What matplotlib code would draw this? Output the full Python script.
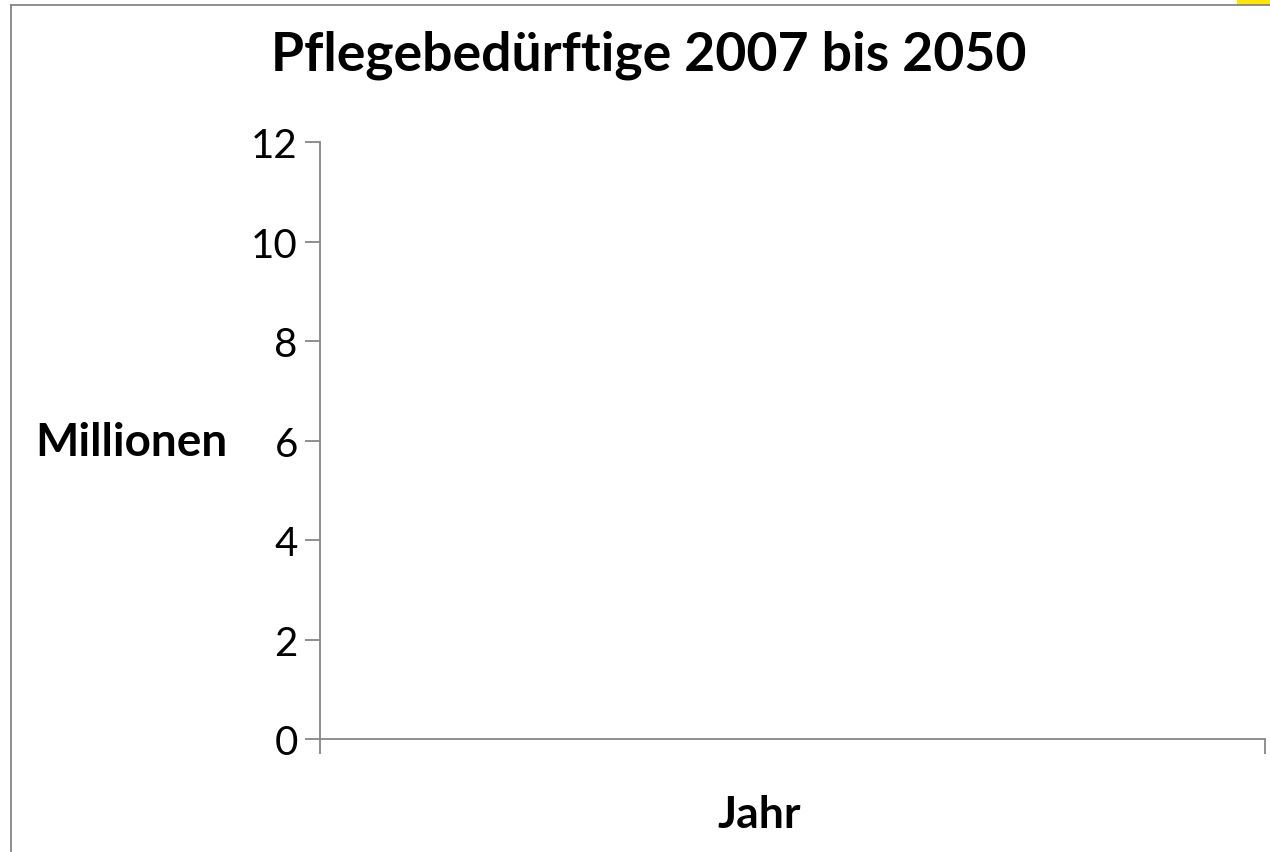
import matplotlib.pyplot as plt
from matplotlib.lines import Line2D
from matplotlib.patches import Rectangle

# Daten (Diagramm ist leer, nur Achsen)
jahre = []
millionen = []
y_ticks = [0, 2, 4, 6, 8, 10, 12]

titel = "Pflegebedürftige 2007 bis 2050"
y_label = "Millionen"
x_label = "Jahr"

plt.rcParams['font.family'] = ['Lato', 'DejaVu Sans']

fig = plt.figure(figsize=(12.7, 8.53), dpi=100)
ax = fig.add_axes([320 / 1270, 1 - 740 / 853, 945 / 1270, 597 / 853])

ax.plot(jahre, millionen)
ax.set_xlim(0, 1)
ax.set_ylim(0, 12)
ax.set_yticks(y_ticks)
ax.set_xticks([0, 1])
ax.set_xticklabels([])

grau = "#868686"
for side in ["top", "right"]:
    ax.spines[side].set_visible(False)
for side in ["left", "bottom"]:
    ax.spines[side].set_color(grau)
    ax.spines[side].set_linewidth(1.3)
ax.tick_params(axis="y", length=11, width=1.3, color=grau, labelsize=29, pad=5)
ax.tick_params(axis="x", length=11, width=1.3, color=grau)

fig.text(649 / 1270, 1 - 55 / 853, titel, ha="center", va="center",
         fontsize=38.5, fontweight="bold")
fig.text(131 / 1270, 1 - 443 / 853, y_label, ha="center", va="center",
         fontsize=33, fontweight="bold")
fig.text(759 / 1270, 1 - 815 / 853, x_label, ha="center", va="center",
         fontsize=32, fontweight="bold")

# Rahmen des Diagramms (abgeschnitten)
fig.add_artist(Line2D([10.5 / 1270, 10.5 / 1270], [0, 1 - 6 / 853],
                      transform=fig.transFigure, color=grau, lw=1.3))
fig.add_artist(Line2D([10.5 / 1270, 1], [1 - 6 / 853, 1 - 6 / 853],
                      transform=fig.transFigure, color=grau, lw=1.3))
fig.add_artist(Rectangle((1237 / 1270, 1 - 6 / 853), 33 / 1270, 6 / 853,
                         transform=fig.transFigure, color="#ffe600", lw=0))

fig.savefig("out.png", dpi=100)
